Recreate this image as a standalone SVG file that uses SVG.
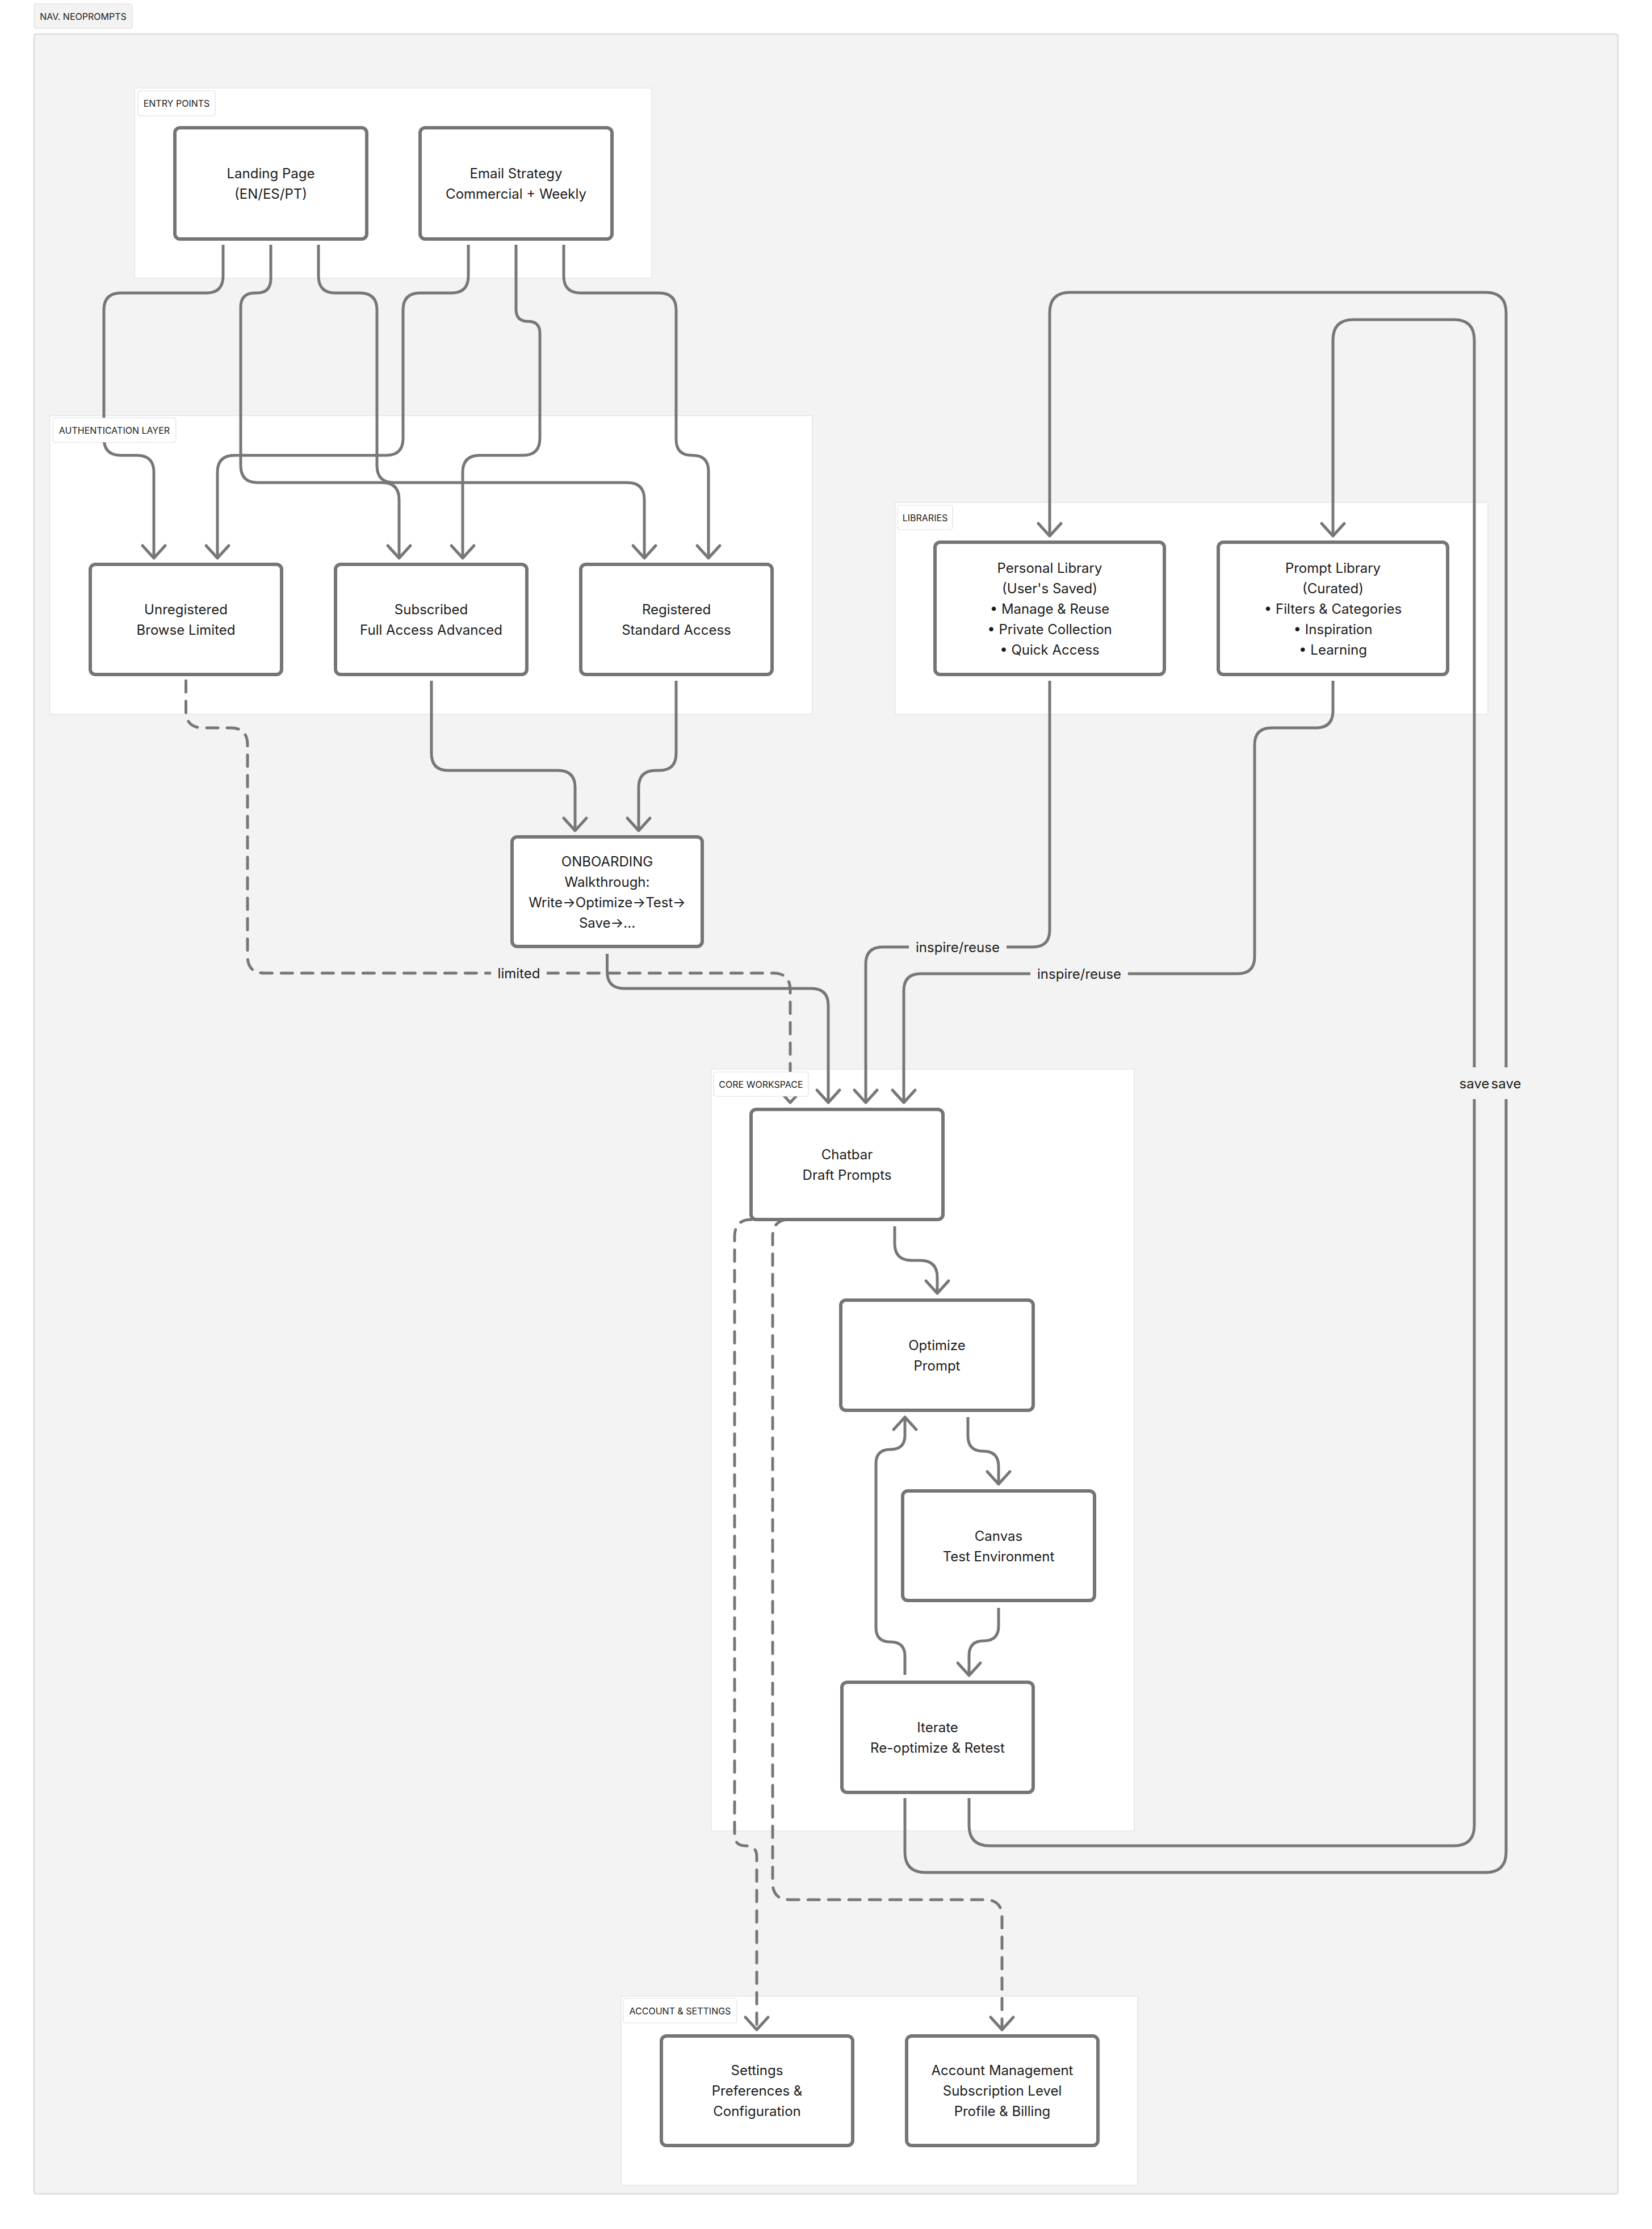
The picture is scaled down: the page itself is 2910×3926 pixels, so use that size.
<svg xmlns="http://www.w3.org/2000/svg" width="2910" height="3926" viewBox="0 0 2910 3926">
<style>
.cont{fill:#ffffff;stroke:#e6e6e6;stroke-width:1.5}
.lbl rect{fill:#ffffff;stroke:#c8c8c8;stroke-width:1.2;stroke-dasharray:2 1.5}
.lbl text{font-family:Inter,"Liberation Sans",sans-serif;font-size:16px;fill:#1a1a1a;text-anchor:middle;dominant-baseline:central}
.node rect{fill:#ffffff;stroke:#757575;stroke-width:6}
.node text{font-family:Inter,"Liberation Sans",sans-serif;font-size:24px;fill:#1c1c1c;text-anchor:middle;dominant-baseline:central}
.edge{fill:none;stroke:#777777;stroke-width:5;stroke-linejoin:round}
.dash{stroke-dasharray:20 16;stroke-linecap:round}
.elbg{fill:#f3f3f3;stroke:none}
.el{font-family:Inter,"Liberation Sans",sans-serif;font-size:24px;fill:#1c1c1c;text-anchor:middle;dominant-baseline:central}
</style>
<defs>
<marker id="arr" viewBox="-30 -26 36 52" markerWidth="36" markerHeight="52" refX="0" refY="0" orient="auto" markerUnits="userSpaceOnUse">
<path d="M-22,-20 L0,0 L-22,20" fill="none" stroke="#777777" stroke-width="5" stroke-linecap="round" stroke-linejoin="round" stroke-dasharray="none"/>
</marker>
</defs>
<rect width="2910" height="3926" fill="#ffffff"/>
<g id="nav-neoprompts">
<rect x="60" y="60" width="2790" height="3804" rx="4" fill="#f3f3f3" stroke="#e0e0e0" stroke-width="3"/>
</g>
<g id="containers">
<rect id="entry-points" class="cont" x="237" y="155" width="911" height="335"/>
<rect id="auth-layer" class="cont" x="88" y="732" width="1343" height="526"/>
<rect id="libraries" class="cont" x="1577" y="885" width="1044" height="373"/>
<rect id="core-workspace" class="cont" x="1253" y="1883" width="745" height="1342"/>
<rect id="account-settings" class="cont" x="1094" y="3516" width="910" height="333"/>
</g>
<g id="connectors">
<path class="edge" marker-end="url(#arr)" d="M393,431 L393,486 Q393,516 363,516 L213,516 Q183,516 183,546 L183,772 Q183,802 213,802 L241,802 Q271,802 271,832 L271,983"/>
<path class="edge" marker-end="url(#arr)" d="M477,431 L477,491 Q477,516 452,516 L449,516 Q424,516 424,541 L424,820 Q424,850 454,850 L673,850 Q703,850 703,880 L703,983"/>
<path class="edge" marker-end="url(#arr)" d="M561,431 L561,486 Q561,516 591,516 L634,516 Q664,516 664,546 L664,820 Q664,850 694,850 L1105,850 Q1135,850 1135,880 L1135,983"/>
<path class="edge" marker-end="url(#arr)" d="M825,431 L825,486 Q825,516 795,516 L740,516 Q710,516 710,546 L710,772 Q710,802 680,802 L413,802 Q383,802 383,832 L383,983"/>
<path class="edge" marker-end="url(#arr)" d="M909,431 L909,545 Q909,566 930,566 Q951,566 951,587 L951,772 Q951,802 921,802 L845,802 Q815,802 815,832 L815,983"/>
<path class="edge" marker-end="url(#arr)" d="M993,431 L993,486 Q993,516 1023,516 L1161,516 Q1191,516 1191,546 L1191,774 Q1191,802 1219,802 L1220,802 Q1248,802 1248,830 L1248,983"/>
<path class="edge" marker-end="url(#arr)" d="M760,1199 L760,1327 Q760,1357 790,1357 L983,1357 Q1013,1357 1013,1387 L1013,1463"/>
<path class="edge" marker-end="url(#arr)" d="M1191,1199 L1191,1327 Q1191,1357 1161,1357 L1155,1357 Q1125,1357 1125,1387 L1125,1463"/>
<path class="edge dash" marker-end="url(#arr)" d="M327.5,1199 L327.5,1252 Q327.5,1282 357.5,1282 L406,1282 Q436,1282 436,1312 L436,1684 Q436,1714 466,1714 L1362,1714 Q1392,1714 1392,1744 L1392,1942"/>
<path class="edge" marker-end="url(#arr)" d="M1069.5,1680 L1069.5,1711 Q1069.5,1741 1099.5,1741 L1429,1741 Q1459,1741 1459,1771 L1459,1942"/>
<path class="edge" marker-end="url(#arr)" d="M1849,1199 L1849,1638 Q1849,1668 1819,1668 L1555,1668 Q1525,1668 1525,1698 L1525,1942"/>
<path class="edge" marker-end="url(#arr)" d="M2348,1199 L2348,1252 Q2348,1282 2318,1282 L2240,1282 Q2210,1282 2210,1312 L2210,1685 Q2210,1715 2180,1715 L1622,1715 Q1592,1715 1592,1745 L1592,1942"/>
<path class="edge" marker-end="url(#arr)" d="M1576,2160 L1576,2190 Q1576,2220 1606,2220 L1621,2220 Q1651,2220 1651,2250 L1651,2278"/>
<path class="edge" marker-end="url(#arr)" d="M1705,2496 L1705,2529 Q1705,2556 1732,2556 Q1759,2556 1759,2583 L1759,2614"/>
<path class="edge" marker-end="url(#arr)" d="M1759,2832 L1759,2864 Q1759,2890 1733,2890 Q1707,2890 1707,2916 L1707,2951"/>
<path class="edge" marker-end="url(#arr)" d="M1594,2950 L1594,2917 Q1594,2892 1569,2892 Q1543,2892 1543,2867 L1543,2578 Q1543,2553 1568,2553 Q1594,2553 1594,2528 L1594,2496"/>
<path class="edge" marker-end="url(#arr)" d="M1707,3167 L1707,3215 Q1707,3251 1743,3251 L2561,3251 Q2597,3251 2597,3215 L2597,599 Q2597,563 2561,563 L2384,563 Q2348,563 2348,599 L2348,944"/>
<path class="edge" marker-end="url(#arr)" d="M1594,3167 L1594,3262 Q1594,3298 1630,3298 L2617,3298 Q2653,3298 2653,3262 L2653,551 Q2653,515 2617,515 L1885,515 Q1849,515 1849,551 L1849,944"/>
<path class="edge dash" marker-end="url(#arr)" d="M1360,2148 L1324,2148 Q1294,2148 1294,2178 L1294,3232 Q1294,3251 1313,3251 Q1333,3251 1333,3270 L1333,3575"/>
<path class="edge dash" marker-end="url(#arr)" d="M1420,2148 L1391,2148 Q1361,2148 1361,2178 L1361,3316 Q1361,3346 1391,3346 L1735,3346 Q1765,3346 1765,3376 L1765,3575"/>
<rect class="elbg" x="865" y="1694" width="98" height="40"/>
<text class="el" x="914" y="1714">limited</text>
<rect class="elbg" x="1601" y="1648" width="172" height="40"/>
<text class="el" x="1687" y="1668">inspire/reuse</text>
<rect class="elbg" x="1815" y="1695" width="172" height="40"/>
<text class="el" x="1901" y="1715">inspire/reuse</text>
<rect class="elbg" x="2566" y="1880" width="62" height="56"/>
<rect class="elbg" x="2622" y="1880" width="62" height="56"/>
<text class="el" x="2597" y="1908">save</text>
<text class="el" x="2653" y="1908">save</text>
</g>
<g id="labels">
<g class="lbl" id="label-nav"><rect x="60" y="7" width="173" height="43" rx="4" style="fill:#f3f3f3"/><text x="146.5" y="29">NAV. NEOPROMPTS</text></g>
<g class="lbl" id="label-entry"><rect x="243" y="160" width="136" height="44" rx="4"/><text x="311" y="182">ENTRY POINTS</text></g>
<g class="lbl" id="label-auth"><rect x="93" y="736" width="217" height="43" rx="4"/><text x="201.5" y="758">AUTHENTICATION LAYER</text></g>
<g class="lbl" id="label-libraries"><rect x="1581" y="890" width="97" height="43" rx="4"/><text x="1629.5" y="912">LIBRARIES</text></g>
<g class="lbl" id="label-core"><rect x="1257" y="1888" width="167" height="43" rx="4"/><text x="1340.5" y="1910">CORE WORKSPACE</text></g>
<g class="lbl" id="label-account"><rect x="1098" y="3520" width="200" height="43" rx="4"/><text x="1198" y="3542">ACCOUNT &amp; SETTINGS</text></g>
</g>
<g class="node" id="landing-page"><rect x="308" y="225" width="338" height="196" rx="9"/><text x="477" y="305">Landing Page</text><text x="477" y="341">(EN/ES/PT)</text></g>
<g class="node" id="email-strategy"><rect x="740" y="225" width="338" height="196" rx="9"/><text x="909" y="305">Email Strategy</text><text x="909" y="341">Commercial + Weekly</text></g>
<g class="node" id="unregistered"><rect x="159" y="994" width="337" height="194" rx="9"/><text x="327.5" y="1073">Unregistered</text><text x="327.5" y="1109">Browse Limited</text></g>
<g class="node" id="subscribed"><rect x="591" y="994" width="337" height="194" rx="9"/><text x="759.5" y="1073">Subscribed</text><text x="759.5" y="1109">Full Access Advanced</text></g>
<g class="node" id="registered"><rect x="1023" y="994" width="337" height="194" rx="9"/><text x="1191.5" y="1073">Registered</text><text x="1191.5" y="1109">Standard Access</text></g>
<g class="node" id="personal-library"><rect x="1647" y="955" width="404" height="233" rx="9"/><text x="1849" y="1000">Personal Library</text><text x="1849" y="1036">(User's Saved)</text><text x="1849" y="1072">• Manage &amp; Reuse</text><text x="1849" y="1108">• Private Collection</text><text x="1849" y="1144">• Quick Access</text></g>
<g class="node" id="prompt-library"><rect x="2146" y="955" width="404" height="233" rx="9"/><text x="2348" y="1000">Prompt Library</text><text x="2348" y="1036">(Curated)</text><text x="2348" y="1072">• Filters &amp; Categories</text><text x="2348" y="1108">• Inspiration</text><text x="2348" y="1144">• Learning</text></g>
<g class="node" id="onboarding"><rect x="902" y="1474" width="335" height="193" rx="9"/><text x="1069.5" y="1517">ONBOARDING</text><text x="1069.5" y="1553">Walkthrough:</text><text x="1069.5" y="1589">Write→Optimize→Test→</text><text x="1069.5" y="1625">Save→...</text></g>
<g class="node" id="chatbar"><rect x="1323" y="1954" width="338" height="194" rx="9"/><text x="1492" y="2033">Chatbar</text><text x="1492" y="2069">Draft Prompts</text></g>
<g class="node" id="optimize"><rect x="1481" y="2290" width="339" height="194" rx="9"/><text x="1650.5" y="2369">Optimize</text><text x="1650.5" y="2405">Prompt</text></g>
<g class="node" id="canvas"><rect x="1590" y="2626" width="338" height="193" rx="9"/><text x="1759" y="2705">Canvas</text><text x="1759" y="2741">Test Environment</text></g>
<g class="node" id="iterate"><rect x="1483" y="2963" width="337" height="194" rx="9"/><text x="1651.5" y="3042">Iterate</text><text x="1651.5" y="3078">Re-optimize &amp; Retest</text></g>
<g class="node" id="settings"><rect x="1165" y="3586" width="337" height="193" rx="9"/><text x="1333.5" y="3646">Settings</text><text x="1333.5" y="3682">Preferences &amp;</text><text x="1333.5" y="3718">Configuration</text></g>
<g class="node" id="account-management"><rect x="1597" y="3586" width="337" height="193" rx="9"/><text x="1765.5" y="3646">Account Management</text><text x="1765.5" y="3682">Subscription Level</text><text x="1765.5" y="3718">Profile &amp; Billing</text></g>
</svg>
